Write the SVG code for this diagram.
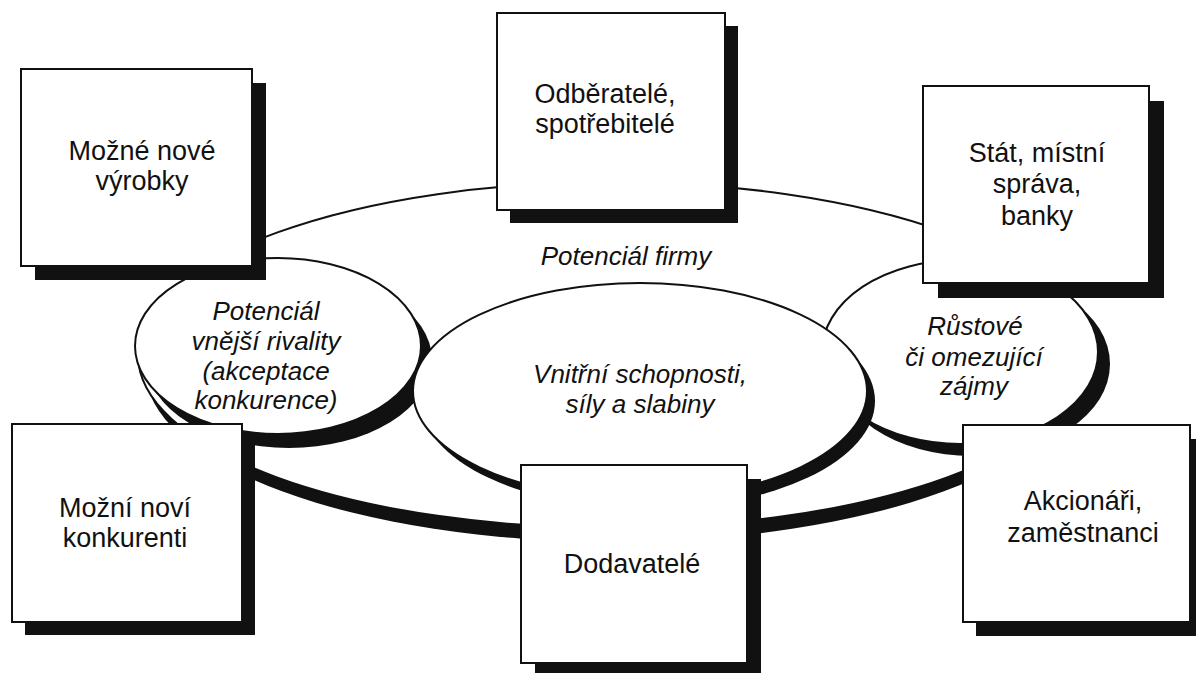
<svg xmlns="http://www.w3.org/2000/svg" width="1196" height="673" viewBox="0 0 1196 673">
<style>
.bg{fill:#ffffff}
.sh{fill:#111111}
.el{fill:#ffffff;stroke:#111111;stroke-width:2}
.bx{fill:#ffffff;stroke:#111111;stroke-width:2}
.t{font-family:"Liberation Sans",Arial,Helvetica,sans-serif;font-size:27px;fill:#111111;text-anchor:middle}
.i{font-style:italic;font-size:26px}
</style>
<rect class="bg" x="0" y="0" width="1196" height="673"/>
<g id="potencial-firmy">
  <ellipse class="sh" cx="613" cy="369" rx="468" ry="173"/>
  <ellipse class="el" cx="612" cy="355" rx="474" ry="173"/>
  <text class="t i" x="626" y="265">Potenciál firmy</text>
</g>
<g id="potencial-rivality">
  <ellipse class="sh" cx="289" cy="360" rx="143" ry="88"/>
  <ellipse class="el" cx="278" cy="346" rx="143" ry="88"/>
  <text class="t i" x="266" y="320">Potenciál</text>
  <text class="t i" x="266" y="350">vnější rivality</text>
  <text class="t i" x="266" y="380">(akceptace</text>
  <text class="t i" x="266" y="409">konkurence)</text>
</g>
<g id="rustove-zajmy">
  <ellipse class="sh" cx="972" cy="364" rx="138" ry="92"/>
  <ellipse class="el" cx="960" cy="352" rx="138" ry="92"/>
  <text class="t i" x="975" y="335">Růstové</text>
  <text class="t i" x="974" y="366">či omezující</text>
  <text class="t i" x="974" y="395">zájmy</text>
</g>
<g id="vnitrni-schopnosti">
  <ellipse class="sh" cx="648" cy="401" rx="227" ry="108"/>
  <ellipse class="el" cx="640" cy="391" rx="227" ry="108"/>
  <text class="t i" x="640" y="383">Vnitřní schopnosti,</text>
  <text class="t i" x="640" y="413">síly a slabiny</text>
</g>
<g id="mozne-nove-vyrobky">
  <rect class="sh" x="35" y="83" width="231" height="197"/>
  <rect class="bx" x="21" y="69" width="231" height="197"/>
  <text class="t" x="142" y="160">Možné nové</text>
  <text class="t" x="142" y="190">výrobky</text>
</g>
<g id="odberatele">
  <rect class="sh" x="510" y="26" width="228" height="197"/>
  <rect class="bx" x="497" y="13" width="228" height="197"/>
  <text class="t" x="605" y="103">Odběratelé,</text>
  <text class="t" x="605" y="133">spotřebitelé</text>
</g>
<g id="stat">
  <rect class="sh" x="938" y="101" width="226" height="197"/>
  <rect class="bx" x="923" y="86" width="226" height="197"/>
  <text class="t" x="1037" y="162">Stát, místní</text>
  <text class="t" x="1037" y="193">správa,</text>
  <text class="t" x="1037" y="225">banky</text>
</g>
<g id="mozni-novi-konkurenti">
  <rect class="sh" x="25" y="437" width="230" height="198"/>
  <rect class="bx" x="12" y="424" width="230" height="198"/>
  <text class="t" x="125" y="517">Možní noví</text>
  <text class="t" x="125" y="547">konkurenti</text>
</g>
<g id="dodavatele">
  <rect class="sh" x="535" y="479" width="226" height="198"/>
  <rect class="bx" x="521" y="465" width="226" height="198"/>
  <text class="t" x="632" y="573">Dodavatelé</text>
</g>
<g id="akcionari">
  <rect class="sh" x="976" y="439" width="227" height="197"/>
  <rect class="bx" x="963" y="425" width="227" height="197"/>
  <text class="t" x="1083" y="510">Akcionáři,</text>
  <text class="t" x="1083" y="542">zaměstnanci</text>
</g>
<g id="connectors"></g>
</svg>
